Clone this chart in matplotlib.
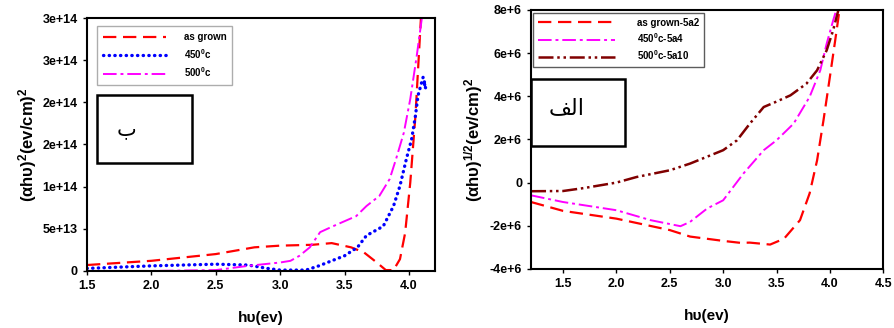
import numpy as np
import matplotlib.pyplot as plt
from matplotlib.patches import Rectangle

plt.rcParams['font.family'] = ['Liberation Sans', 'DejaVu Sans']
plt.rcParams['font.weight'] = 'bold'
plt.rcParams['mathtext.fontset'] = 'custom'
plt.rcParams['mathtext.rm'] = 'Liberation Sans:bold'
plt.rcParams['mathtext.bf'] = 'Liberation Sans:bold'
plt.rcParams['mathtext.default'] = 'rm'

# ---- left panel (b): (alpha h nu)^2 ----
left_labels = ['as grown', '450$^0$c', '500$^0$c']
grown_x = [1.5, 2.0, 2.5, 2.8, 3.0, 3.25, 3.4, 3.55, 3.65, 3.75, 3.82, 3.88, 3.93, 3.97, 4.01, 4.05, 4.08, 4.10]
grown_y = [7, 12, 20, 28, 30, 31, 33, 28, 22, 10, 1, 1, 14, 45, 105, 184, 265, 320]
t450_x = [1.5, 2.0, 2.5, 2.75, 2.9, 3.0, 3.2, 3.3, 3.5, 3.6, 3.67, 3.80, 3.88, 3.93, 3.98, 4.02, 4.05, 4.07, 4.11, 4.12, 4.13, 4.12]
t450_y = [3, 6, 8, 7, 3, 1, 1, 6, 18, 28, 42, 53, 77, 101, 133, 156, 184, 208, 230, 224, 216, 222]
t500_x = [1.5, 2.0, 2.5, 2.75, 3.0, 3.08, 3.15, 3.23, 3.31, 3.41, 3.59, 3.67, 3.77, 3.85, 3.90, 3.96, 4.01, 4.06, 4.10, 4.11]
t500_y = [0, 0, 1, 6, 10, 12, 18, 28, 46, 53, 65, 77, 89, 109, 133, 164, 204, 255, 300, 320]
left_yticks = [0, 5e13, 1e14, 1.5e14, 2e14, 2.5e14, 3e14]
left_yticklabels = ['0', '5e+13', '1e+14', '2e+14', '2e+14', '3e+14', '3e+14']
left_xticks = [1.5, 2.0, 2.5, 3.0, 3.5, 4.0]

# ---- right panel (alef): (alpha h nu)^(1/2) ----
right_labels = ['as grown-5a2', '450$^0$c-5a4', '500$^0$c-5a10']
rg_x = [1.2, 1.5, 2.0, 2.5, 2.69, 3.0, 3.16, 3.25, 3.44, 3.57, 3.72, 3.81, 3.88, 3.94, 4.0, 4.05, 4.09, 4.11]
rg_y = [-0.9, -1.31, -1.67, -2.2, -2.5, -2.7, -2.79, -2.78, -2.87, -2.6, -1.74, -0.5, 1.03, 2.89, 4.9, 6.6, 8.0, 8.6]
r450_x = [1.2, 1.5, 2.0, 2.32, 2.6, 2.69, 2.85, 3.0, 3.19, 3.38, 3.5, 3.66, 3.81, 3.91, 3.97, 4.03, 4.06, 4.08]
r450_y = [-0.59, -0.9, -1.28, -1.74, -2.02, -1.82, -1.2, -0.82, 0.42, 1.5, 1.96, 2.73, 3.97, 5.2, 6.44, 7.5, 8.0, 8.4]
r500_x = [1.2, 1.5, 1.7, 2.0, 2.19, 2.5, 2.69, 3.0, 3.13, 3.25, 3.38, 3.49, 3.63, 3.78, 3.88, 3.97, 4.03, 4.08, 4.10]
r500_y = [-0.4, -0.39, -0.25, 0.0, 0.26, 0.57, 0.88, 1.5, 1.96, 2.73, 3.5, 3.73, 4.04, 4.58, 5.2, 6.13, 7.05, 8.0, 8.4]
right_yticks = [-4e6, -2e6, 0, 2e6, 4e6, 6e6, 8e6]
right_yticklabels = ['-4e+6', '-2e+6', '0', '2e+6', '4e+6', '6e+6', '8e+6']
right_xticks = [1.5, 2.0, 2.5, 3.0, 3.5, 4.0, 4.5]

fig = plt.figure(figsize=(8.94, 3.28), dpi=100)
ax1 = fig.add_axes([0.0973, 0.174, 0.389, 0.771])
ax2 = fig.add_axes([0.594, 0.180, 0.394, 0.790])

dots = (0, (0.1, 1.6))

# left
ax1.plot(grown_x, np.array(grown_y) * 1e12, color='#ff0000', lw=1.6, ls=(0, (6, 3)), label=left_labels[0])
ax1.plot(t450_x, np.array(t450_y) * 1e12, color='#0000ff', lw=2.4, ls=dots, dash_capstyle='round', label=left_labels[1])
ax1.plot(t500_x, np.array(t500_y) * 1e12, color='#ff00ff', lw=1.4, ls=(0, (7, 2, 1.5, 2)), label=left_labels[2])
ax1.set_xlim(1.5, 4.2)
ax1.set_ylim(0, 3e14)
ax1.set_xticks(left_xticks)
ax1.set_xticklabels([f'{v:.1f}' for v in left_xticks])
ax1.set_yticks(left_yticks)
ax1.set_yticklabels(left_yticklabels)
ax1.set_xlabel('h\u03c5(ev)', fontsize=11, fontweight='bold', labelpad=14)
ax1.set_ylabel('(\u03b1h\u03c5)$^2$(ev/cm)$^2$', fontsize=12, fontweight='bold', labelpad=3)
leg1 = ax1.legend(loc='upper left', bbox_to_anchor=(0.029, 0.968), borderaxespad=0,
                  fancybox=False, edgecolor='#999999', fontsize=7, handlelength=6.5,
                  handletextpad=1.8, labelspacing=0.5, borderpad=0.6)
leg1.get_frame().set_linewidth(1.0)
ax1.add_patch(Rectangle((0.029, 0.427), 0.273, 0.269, transform=ax1.transAxes,
                        fill=False, edgecolor='black', lw=1.8, zorder=5))
ax1.text(0.115, 0.56, '\u0628', transform=ax1.transAxes, fontsize=15,
         fontweight='normal', family='DejaVu Sans', ha='center', va='center')

# right
ax2.plot(rg_x, np.array(rg_y) * 1e6, color='#ff0000', lw=1.6, ls=(0, (6, 3)), label=right_labels[0])
ax2.plot(r450_x, np.array(r450_y) * 1e6, color='#ff00ff', lw=1.4, ls=(0, (7, 2, 1.5, 2)), label=right_labels[1])
ax2.plot(r500_x, np.array(r500_y) * 1e6, color='#800000', lw=1.8, ls=(0, (6, 1.5, 1, 1.5, 1, 1.5)), label=right_labels[2])
ax2.set_xlim(1.2, 4.5)
ax2.set_ylim(-4e6, 8e6)
ax2.set_xticks(right_xticks)
ax2.set_xticklabels([f'{v:.1f}' for v in right_xticks])
ax2.set_yticks(right_yticks)
ax2.set_yticklabels(right_yticklabels)
ax2.set_xlabel('h\u03c5(ev)', fontsize=11, fontweight='bold', labelpad=14)
ax2.set_ylabel('(\u03b1h\u03c5)$^{1/2}$(ev/cm)$^2$', fontsize=12, fontweight='bold', labelpad=3)
leg2 = ax2.legend(loc='upper left', bbox_to_anchor=(0.005, 0.988), borderaxespad=0,
                  fancybox=False, edgecolor='#333333', fontsize=7, handlelength=8,
                  handletextpad=2.2, labelspacing=0.35, borderpad=0.5)
leg2.get_frame().set_linewidth(1.0)
ax2.add_patch(Rectangle((0.0, 0.475), 0.267, 0.259, transform=ax2.transAxes,
                        fill=False, edgecolor='black', lw=1.8, zorder=5, clip_on=False))
# alef-lam-feh in visual order with presentation forms
ax2.text(0.1, 0.62, '\ufed2\ufedf\ufe8d', transform=ax2.transAxes, fontsize=16,
         fontweight='normal', family='DejaVu Sans', ha='center', va='center')

for ax in (ax1, ax2):
    ax.tick_params(direction='out', length=3, width=1, labelsize=9, top=False, right=False)
    for lbl in ax.get_xticklabels() + ax.get_yticklabels():
        lbl.set_fontweight('bold')
    for sp in ax.spines.values():
        sp.set_linewidth(1.5)

fig.savefig('out.png', dpi=100)
